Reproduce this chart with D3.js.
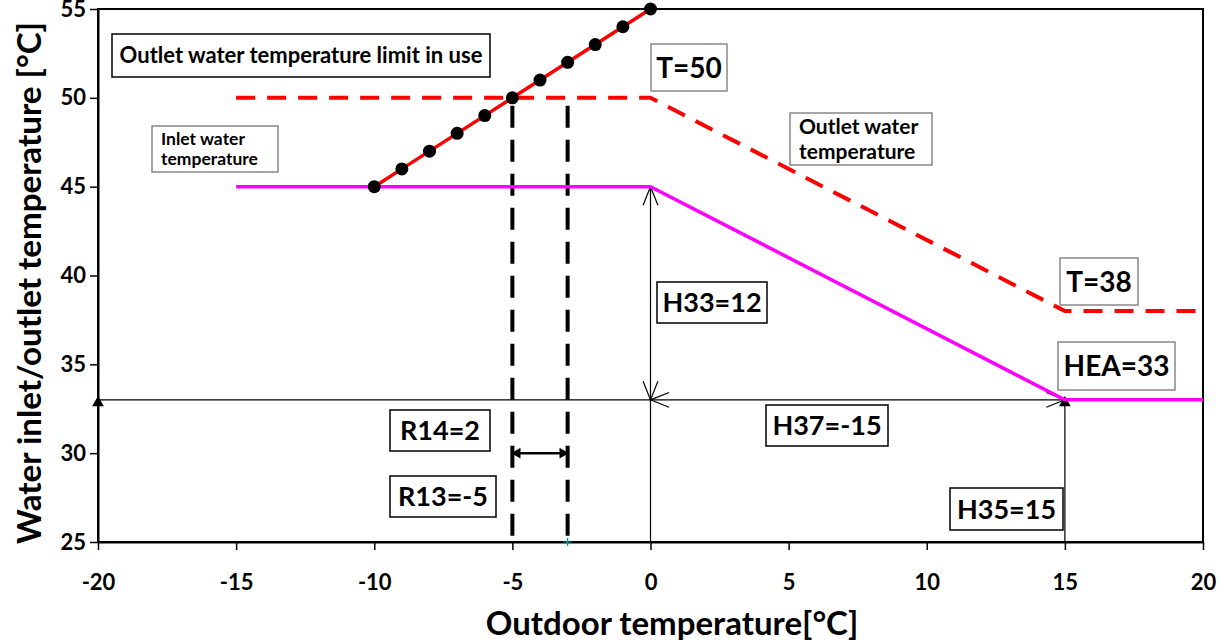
<!DOCTYPE html>
<html>
<head>
<meta charset="utf-8">
<script src="https://cdn.jsdelivr.net/npm/d3@7"></script>
<style>
  body { margin: 0; background: #fff; }
  svg { display: block; font-family: Lato, "Open Sans", sans-serif; }
</style>
</head>
<body>
<svg id="chart" width="1224" height="643"></svg>
<script>
// data
const xTicks = [-20, -15, -10, -5, 0, 5, 10, 15, 20];
const yTicks = [25, 30, 35, 40, 45, 50, 55];

const limitX = [-10, -9, -8, -7, -6, -5, -4, -3, -2, -1, 0];
const limitY = [45, 46, 47, 48, 49, 50, 51, 52, 53, 54, 55];

const outletX = [-15, 0, 15, 20];
const outletY = [50, 50, 38, 38];

const inletX = [-15, 0, 15, 20];
const inletY = [45, 45, 33, 33];

const bandX = [-5, -3];      // R13 .. R13+R14
const bandTop = 50;
const bandArrowY = 30;

const labels = [
  { text: ["Outlet water temperature limit in use"], x0: 112, y0: 34, w: 378, h: 43, size: 22, border: "#000", anchor: "middle" },
  { text: ["Inlet water", "temperature"], x0: 152, y0: 126, w: 126, h: 46, size: 17.5, border: "#888", anchor: "start" },
  { text: ["T=50"], x0: 651, y0: 44, w: 76, h: 47, size: 28, border: "#888", anchor: "middle" },
  { text: ["Outlet water", "temperature"], x0: 790, y0: 113, w: 142, h: 52, size: 21, border: "#888", anchor: "start" },
  { text: ["T=38"], x0: 1060, y0: 258, w: 78, h: 47, size: 28, border: "#888", anchor: "middle" },
  { text: ["HEA=33"], x0: 1058, y0: 342, w: 117, h: 48, size: 28, border: "#888", anchor: "middle" },
  { text: ["H33=12"], x0: 657, y0: 282, w: 110, h: 41, size: 27, border: "#000", anchor: "middle" },
  { text: ["H37=-15"], x0: 766, y0: 405, w: 122, h: 41, size: 27, border: "#000", anchor: "middle" },
  { text: ["R14=2"], x0: 390, y0: 410, w: 100, h: 41, size: 27, border: "#000", anchor: "middle" },
  { text: ["R13=-5"], x0: 390, y0: 476, w: 106, h: 41, size: 27, border: "#000", anchor: "middle" },
  { text: ["H35=15"], x0: 950, y0: 488, w: 113, h: 42, size: 27, border: "#000", anchor: "middle" }
];

const svg = d3.select("#chart");
const margin = { top: 9, right: 21, bottom: 101, left: 98 };
const W = 1224 - margin.left - margin.right;
const H = 643 - margin.top - margin.bottom;

const x = d3.scaleLinear().domain([-20, 20]).range([margin.left, margin.left + W]);
const y = d3.scaleLinear().domain([25, 55]).range([margin.top + H, margin.top]);

// frame
svg.append("rect")
  .attr("x", x(-20)).attr("y", y(55))
  .attr("width", W).attr("height", H)
  .attr("fill", "none").attr("stroke", "#000").attr("stroke-width", 2);

// axes
const xAxis = svg.append("g")
  .attr("transform", `translate(0,${y(25)})`)
  .call(d3.axisBottom(x).tickValues(xTicks).tickSize(8).tickSizeOuter(0).tickFormat(d => String(d)));
const yAxis = svg.append("g")
  .attr("transform", `translate(${x(-20)},0)`)
  .call(d3.axisLeft(y).tickValues(yTicks).tickSize(8).tickSizeOuter(0).tickFormat(d => String(d)));

[xAxis, yAxis].forEach(g => {
  g.select(".domain").attr("stroke-width", 2);
  g.selectAll(".tick line").attr("stroke-width", 1.5);
  g.selectAll("text")
    .attr("font-size", 22).attr("font-weight", "bold").attr("fill", "#000")
    .attr("font-family", "Lato, sans-serif");
});
xAxis.selectAll("text").attr("dy", "1.7em");
yAxis.selectAll("text").attr("dx", "-0.05em");

// axis titles
svg.append("text")
  .attr("x", 672).attr("y", 635)
  .attr("text-anchor", "middle")
  .attr("font-size", 33).attr("font-weight", "bold")
  .text("Outdoor temperature[°C]");
svg.append("text")
  .attr("transform", `translate(41,283) rotate(-90)`)
  .attr("text-anchor", "middle")
  .attr("font-size", 33).attr("font-weight", "bold")
  .attr("textLength", 522).attr("lengthAdjust", "spacingAndGlyphs")
  .text("Water inlet/outlet temperature [°C]");

const line = d3.line().x(d => x(d[0])).y(d => y(d[1]));
const zip = (a, b) => a.map((v, i) => [v, b[i]]);

// thin dimension lines
const thin = svg.append("g").attr("stroke", "#000").attr("stroke-width", 1.2).attr("fill", "none");
thin.append("path").attr("d", line([[-20, inletY[2]], [inletX[2], inletY[2]]]));
thin.append("path").attr("d", line([[0, 25], [0, inletY[1]]]));
thin.append("path").attr("d", line([[inletX[2], 25], [inletX[2], inletY[2]]]));

// open arrowheads
function openHead(px, py, angle) {
  const len = 20, spread = 0.38;
  const p = d3.path();
  p.moveTo(px + len * Math.cos(angle - spread), py + len * Math.sin(angle - spread));
  p.lineTo(px, py);
  p.lineTo(px + len * Math.cos(angle + spread), py + len * Math.sin(angle + spread));
  thin.append("path").attr("d", p.toString());
}
openHead(x(0), y(45), Math.PI / 2);     // H33 top
openHead(x(0), y(33), -Math.PI / 2);    // H33 bottom
openHead(x(0), y(33), 0);               // H37 left
openHead(x(15), y(33), Math.PI);        // H37 right

// filled triangles
[-20, 15].forEach(v => {
  svg.append("path")
    .attr("d", d3.symbol().type(d3.symbolTriangle).size(60))
    .attr("transform", `translate(${x(v)},${y(33) + 3})`)
    .attr("fill", "#000");
});

// R13/R14 dashed verticals
bandX.forEach(v => {
  svg.append("path")
    .attr("d", line([[v, bandTop], [v, 25]]))
    .attr("stroke", "#000").attr("stroke-width", 4)
    .attr("stroke-dasharray", "22,12")
    .attr("stroke-dashoffset", -8);
});

// double arrow between bands
svg.append("path")
  .attr("d", line([[bandX[0], bandArrowY], [bandX[1], bandArrowY]]))
  .attr("stroke", "#000").attr("stroke-width", 2.5);
[[bandX[0], -90], [bandX[1], 90]].forEach(([v, rot]) => {
  svg.append("path")
    .attr("d", d3.symbol().type(d3.symbolTriangle).size(50))
    .attr("transform", `translate(${x(v) + (rot < 0 ? 5 : -5)},${y(bandArrowY)}) rotate(${rot})`)
    .attr("fill", "#000");
});

// outlet water (red dashed)
svg.append("path")
  .attr("d", line(zip(outletX, outletY)))
  .attr("fill", "none").attr("stroke", "#ff0000").attr("stroke-width", 4)
  .attr("stroke-dasharray", "19,12");

// inlet water (magenta)
svg.append("path")
  .attr("d", line(zip(inletX, inletY)))
  .attr("fill", "none").attr("stroke", "#ff00ff").attr("stroke-width", 3.5);

// limit in use (red solid with dots)
svg.append("path")
  .attr("d", line(zip(limitX, limitY)))
  .attr("fill", "none").attr("stroke", "#ff0000").attr("stroke-width", 3.5);
svg.append("g").selectAll("circle")
  .data(zip(limitX, limitY))
  .join("circle")
  .attr("cx", d => x(d[0])).attr("cy", d => y(d[1]))
  .attr("r", 6.5).attr("fill", "#000");

// small cyan cross at R13+R14 on axis
const cx0 = x(bandX[1]), cy0 = y(25);
svg.append("path")
  .attr("d", `M${cx0 - 4},${cy0}H${cx0 + 4}M${cx0},${cy0 - 4}V${cy0 + 4}`)
  .attr("stroke", "#009999").attr("stroke-width", 1.2);

// label boxes
const lab = svg.append("g");
labels.forEach(l => {
  lab.append("rect")
    .attr("x", l.x0).attr("y", l.y0).attr("width", l.w).attr("height", l.h)
    .attr("fill", "#fff").attr("stroke", l.border).attr("stroke-width", 1.5);
  const t = lab.append("text")
    .attr("font-size", l.size).attr("font-weight", "bold")
    .attr("text-anchor", l.anchor);
  const lh = l.size * 1.15;
  const tx = l.anchor === "start" ? l.x0 + 9 : l.x0 + l.w / 2;
  const startY = l.y0 + l.h / 2 - (l.text.length - 1) * lh / 2 + l.size * 0.36;
  l.text.forEach((s, i) => {
    t.append("tspan").attr("x", tx).attr("y", startY + i * lh).text(s);
  });
});
</script>
</body>
</html>
